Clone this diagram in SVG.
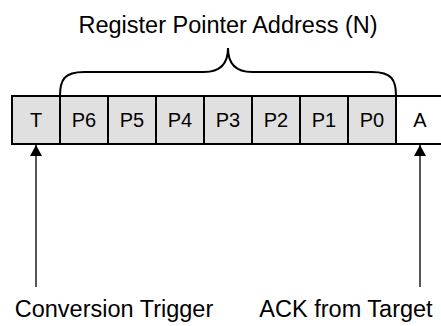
<svg xmlns="http://www.w3.org/2000/svg" width="441" height="326" viewBox="0 0 441 326">
<style>
text{font-family:"Liberation Sans",Arial,sans-serif;fill:#000;text-anchor:middle}
.cell{fill:#e0e0e0;stroke:#000;stroke-width:2}
.cellw{fill:#fff;stroke:#000;stroke-width:2}
.ct{font-size:20px}
.lbl{font-size:23.5px}
.conn{stroke:#555;stroke-width:2;fill:none}
</style>
<defs>
<marker id="ah" markerWidth="11" markerHeight="12" refX="11" refY="6" orient="auto" markerUnits="userSpaceOnUse" viewBox="0 0 11 12">
<path d="M0,0 L11,6 L0,12 Z" fill="#000"/>
</marker>
</defs>
<rect width="441" height="326" fill="#fff"/>
<g id="title"><text class="lbl" x="228" y="33">Register Pointer Address (N)</text></g>
<g id="brace"><path d="M60,96 C60,80 64,72 84,72 L204,72 C220,72 228,64 228,48 C228,64 236,72 252,72 L372,72 C392,72 396,80 396,96" fill="none" stroke="#000" stroke-width="2"/></g>
<g id="cell-T"><rect class="cell" x="12" y="96" width="48" height="48"/><text class="ct" x="36" y="127">T</text></g>
<g id="cell-P6"><rect class="cell" x="60" y="96" width="48" height="48"/><text class="ct" x="84" y="127">P6</text></g>
<g id="cell-P5"><rect class="cell" x="108" y="96" width="48" height="48"/><text class="ct" x="132" y="127">P5</text></g>
<g id="cell-P4"><rect class="cell" x="156" y="96" width="48" height="48"/><text class="ct" x="180" y="127">P4</text></g>
<g id="cell-P3"><rect class="cell" x="204" y="96" width="48" height="48"/><text class="ct" x="228" y="127">P3</text></g>
<g id="cell-P2"><rect class="cell" x="252" y="96" width="48" height="48"/><text class="ct" x="276" y="127">P2</text></g>
<g id="cell-P1"><rect class="cell" x="300" y="96" width="48" height="48"/><text class="ct" x="324" y="127">P1</text></g>
<g id="cell-P0"><rect class="cell" x="348" y="96" width="48" height="48"/><text class="ct" x="372" y="127">P0</text></g>
<g id="cell-A"><rect class="cellw" x="396" y="96" width="52" height="48"/><text class="ct" x="420" y="127">A</text></g>
<g id="connectors">
<line class="conn" x1="36" y1="287" x2="36" y2="145" marker-end="url(#ah)"/>
<line class="conn" x1="420" y1="287" x2="420" y2="145" marker-end="url(#ah)"/>
</g>
<g id="label-conv"><text class="lbl" x="114" y="317">Conversion Trigger</text></g>
<g id="label-ack"><text class="lbl" x="346" y="317">ACK from Target</text></g>
</svg>
